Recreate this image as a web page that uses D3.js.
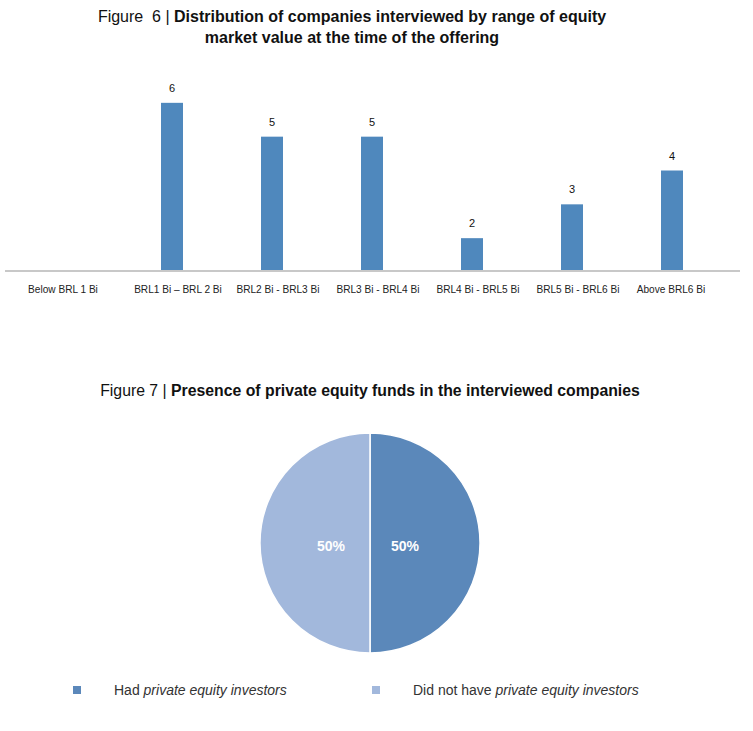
<!DOCTYPE html>
<html>
<head>
<meta charset="utf-8">
<script src="https://cdn.jsdelivr.net/npm/d3@7"></script>
<style>
  body { margin: 0; background: #fff; }
  text { font-family: "Liberation Sans", Arial, sans-serif; }
</style>
</head>
<body>
<div id="graphicContainer"></div>
<script>
// bar chart data (figure 6)
const categories = ["Below BRL 1 Bi", "BRL1 Bi \u2013 BRL 2 Bi", "BRL2 Bi - BRL3 Bi", "BRL3 Bi - BRL4 Bi",
    "BRL4 Bi - BRL5 Bi", "BRL5 Bi - BRL6 Bi", "Above BRL6 Bi"];
const companies = [0, 6, 5, 5, 2, 3, 4];

// pie data (figure 7)
const pieLabels = ["Had private equity investors", "Did not have private equity investors"];
const pieValues = [50, 50];
const pieColors = ["#5b88ba", "#a2b8dc"];

const svg = d3.select("#graphicContainer").append("svg")
    .attr("width", 753)
    .attr("height", 731);

// ---- Figure 6 title
const t6 = svg.append("text").attr("text-anchor", "middle").attr("font-size", 16).attr("fill", "#111");
t6.append("tspan").attr("x", 352).attr("y", 22).text("Figure\u00a0 6 | ");
t6.append("tspan").attr("font-weight", "bold").text("Distribution of companies interviewed by range of equity");
svg.append("text").attr("text-anchor", "middle").attr("font-size", 16).attr("font-weight", "bold")
    .attr("fill", "#111").attr("x", 352).attr("y", 43)
    .text("market value at the time of the offering");

// ---- bars
const x = d3.scaleBand()
    .domain(categories)
    .range([22, 722])
    .paddingInner(0.78)
    .paddingOuter(0.39);

// excel axis starts at 1 here, so the baseline is not zero
const y = d3.scaleLinear()
    .domain([1, 7])
    .range([272, 69]);

const g = svg.append("g");

g.selectAll("rect")
    .data(companies.map((v, i) => ({ cat: categories[i], v: v })).filter(d => d.v > 1))
    .enter()
    .append("rect")
    .attr("x", d => x(d.cat))
    .attr("width", x.bandwidth())
    .attr("y", d => y(d.v))
    .attr("height", d => y(1) - y(d.v))
    .attr("fill", "#4f88bd");

g.selectAll("text.val")
    .data(companies.map((v, i) => ({ cat: categories[i], v: v })).filter(d => d.v > 1))
    .enter()
    .append("text")
    .attr("class", "val")
    .attr("x", d => x(d.cat) + x.bandwidth() / 2)
    .attr("y", d => y(d.v) - 11)
    .attr("text-anchor", "middle")
    .attr("font-size", 11)
    .attr("fill", "#111")
    .text(d => d.v);

// axis line
g.append("line")
    .attr("x1", 5).attr("x2", 740)
    .attr("y1", 271).attr("y2", 271)
    .attr("stroke", "#c8c8c8")
    .attr("stroke-width", 2);

g.selectAll("text.cat")
    .data(categories)
    .enter()
    .append("text")
    .attr("class", "cat")
    .attr("x", (d, i) => x(d) + x.bandwidth() / 2 + (i === 0 ? -9 : i === categories.length - 1 ? -1 : 6))
    .attr("y", 293)
    .attr("text-anchor", "middle")
    .attr("font-size", 10.1)
    .attr("fill", "#222")
    .text(d => d);

// ---- Figure 7 title
const t7 = svg.append("text").attr("text-anchor", "middle").attr("font-size", 15.8).attr("fill", "#111");
t7.append("tspan").attr("x", 370).attr("y", 396).text("Figure 7 | ");
t7.append("tspan").attr("font-weight", "bold").text("Presence of private equity funds in the interviewed companies");

// ---- pie
const pie = d3.pie().sort(null)(pieValues);
const arc = d3.arc().innerRadius(0).outerRadius(110);
const pg = svg.append("g").attr("transform", "translate(370,543)");

pg.selectAll("path")
    .data(pie)
    .enter()
    .append("path")
    .attr("d", arc)
    .attr("fill", (d, i) => pieColors[i])
    .attr("stroke", "#fff")
    .attr("stroke-width", 1.5);

const labelArc = d3.arc().innerRadius(74).outerRadius(74);
pg.selectAll("text")
    .data(pie)
    .enter()
    .append("text")
    .attr("x", d => labelArc.centroid(d)[0] * 0.5 - 2)
    .attr("y", 8)
    .attr("text-anchor", "middle")
    .attr("font-size", 14)
    .attr("font-weight", "bold")
    .attr("fill", "#fff")
    .text(d => d.value + "%");

// ---- legend
const legX = [73, 372];
pieLabels.forEach(function (lab, i) {
    svg.append("rect")
        .attr("x", legX[i]).attr("y", 686)
        .attr("width", 8).attr("height", 8)
        .attr("fill", pieColors[i]);
    const tx = svg.append("text")
        .attr("x", legX[i] + 41).attr("y", 695)
        .attr("font-size", 14)
        .attr("fill", "#333");
    const plain = i === 0 ? "Had " : "Did not have ";
    tx.append("tspan").text(plain);
    tx.append("tspan").attr("font-style", "italic").text("private equity investors");
});
</script>
</body>
</html>
